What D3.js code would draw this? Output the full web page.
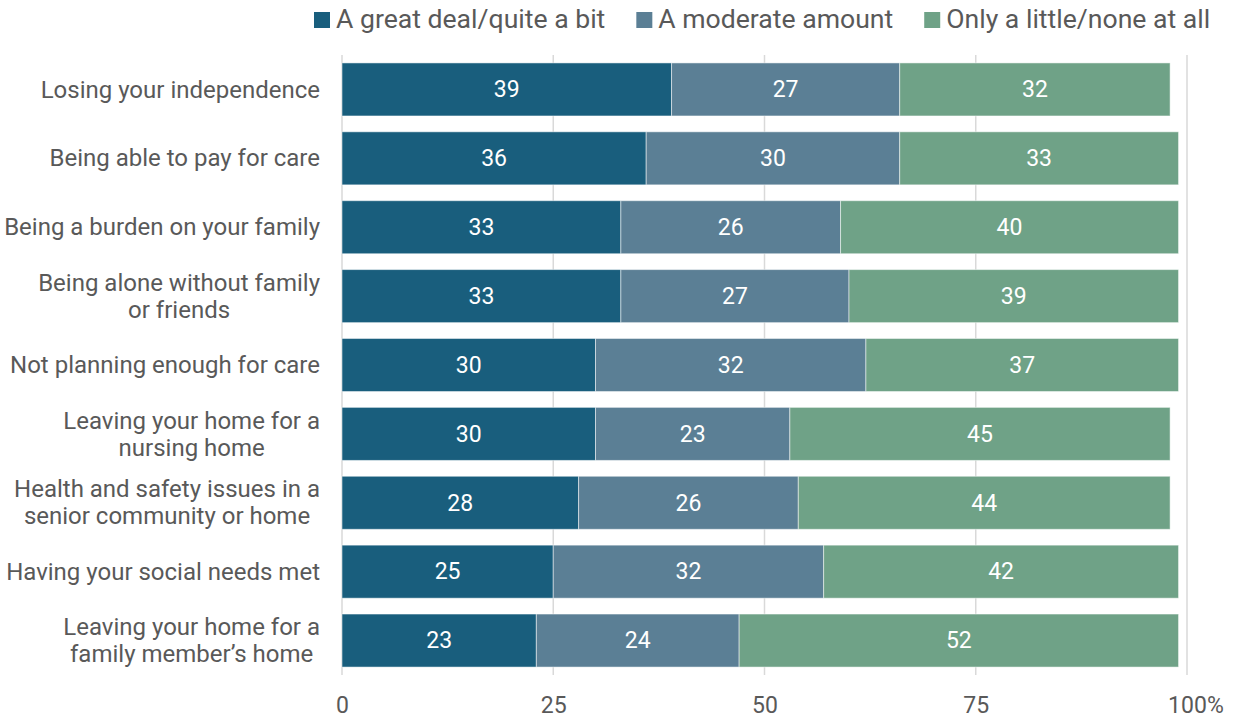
<!DOCTYPE html>
<html>
<head>
<meta charset="utf-8">
<script src="https://cdn.jsdelivr.net/npm/d3@7"></script>
<style>
  body { margin: 0; background: #fff; }
  svg { font-family: Roboto, "Noto Sans", sans-serif; }
</style>
</head>
<body>
<div id="chart"></div>
<script>
const categories = [
    ['Losing your independence'],
    ['Being able to pay for care'],
    ['Being a burden on your family'],
    ['Being alone without family', 'or friends'],
    ['Not planning enough for care'],
    ['Leaving your home for a', 'nursing home'],
    ['Health and safety issues in a', 'senior community or home'],
    ['Having your social needs met'],
    ['Leaving your home for a', 'family member\u2019s home']
]
const greatDeal = [39, 36, 33, 33, 30, 30, 28, 25, 23]
const moderate = [27, 30, 26, 27, 32, 23, 26, 32, 24]
const little = [32, 33, 40, 39, 37, 45, 44, 42, 52]
const seriesNames = ['A great deal/quite a bit', 'A moderate amount', 'Only a little/none at all']
const seriesColors = ['#195e7d', '#5b7f95', '#6fa287']
const tickValues = [0, 25, 50, 75, 100]

const w = 1237, h = 719
const margin = { top: 55, right: 50, bottom: 44, left: 342 }
const textColor = '#595959'

const svg = d3.select('#chart').append('svg').attr('width', w).attr('height', h)

const x = d3.scaleLinear().domain([0, 100]).range([margin.left, 1187])
const y = d3.scaleBand()
    .domain(d3.range(categories.length))
    .range([margin.top, h - margin.bottom])
    .paddingInner(0.23)
    .paddingOuter(0.115)

// gridlines
svg.append('g').selectAll('line')
    .data(tickValues).enter()
    .append('line')
    .attr('x1', d => x(d)).attr('x2', d => x(d))
    .attr('y1', margin.top).attr('y2', h - margin.bottom)
    .attr('stroke', '#d9d9d9').attr('stroke-width', 1.5)

// stacked bars
const rows = categories.map((c, i) => ({ i, vals: [greatDeal[i], moderate[i], little[i]] }))
const stack = d3.stack().keys([0, 1, 2]).value((d, k) => d.vals[k])
const layers = stack(rows)

layers.forEach((layer, k) => {
    const g = svg.append('g')
    g.selectAll('rect')
        .data(layer).enter()
        .append('rect')
        .attr('x', d => x(d[0]))
        .attr('y', d => y(d.data.i))
        .attr('width', d => x(d[1]) - x(d[0]))
        .attr('height', y.bandwidth())
        .attr('fill', seriesColors[k])
        .attr('stroke', 'rgba(255,255,255,0.5)')
        .attr('stroke-width', 1)
    g.selectAll('text')
        .data(layer).enter()
        .append('text')
        .attr('x', d => (x(d[0]) + x(d[1])) / 2)
        .attr('y', d => y(d.data.i) + y.bandwidth() / 2)
        .attr('text-anchor', 'middle')
        .attr('dy', '0.34em')
        .attr('fill', '#fff')
        .attr('font-size', '23px')
        .text(d => d[1] - d[0])
})

// category labels (multi-line labels are centred as a block, right edge at 320)
svg.append('g').selectAll('text')
    .data(categories).enter()
    .append('text')
    .attr('fill', textColor)
    .attr('font-size', '24px')
    .each(function (lines, i) {
        const cy = y(i) + y.bandwidth() / 2
        const lh = 27
        const t = d3.select(this)
        const spans = lines.map((ln, j) => t.append('tspan')
            .attr('y', cy + (j - (lines.length - 1) / 2) * lh)
            .attr('dy', '0.34em')
            .text(ln))
        if (lines.length === 1) {
            t.attr('text-anchor', 'end')
            spans[0].attr('x', 320)
        } else {
            const maxW = d3.max(spans, s => s.node().getComputedTextLength())
            t.attr('text-anchor', 'middle')
            spans.forEach(s => s.attr('x', 320 - maxW / 2))
        }
    })

// x axis labels
const axis = svg.append('g')
    .attr('transform', `translate(0,${h - margin.bottom})`)
    .call(d3.axisBottom(x).tickValues(tickValues).tickSize(0).tickPadding(22))
axis.select('.domain').remove()
axis.attr('font-size', 23).attr('font-family', 'Roboto, "Noto Sans", sans-serif')
axis.selectAll('text').attr('fill', textColor)
axis.selectAll('.tick').filter(d => d === 100).each(function () {
    const t = d3.select(this).select('text')
    t.text('')
    const num = t.append('tspan').text('100')
    t.append('tspan').text('%')
    const half = num.node().getComputedTextLength() / 2
    t.attr('text-anchor', 'start').attr('x', -half)
})

// Legend
const legend = svg.append('g').attr('transform', 'translate(314, 28)')
let lx = 0
seriesNames.forEach((name, k) => {
    const item = legend.append('g').attr('transform', `translate(${lx}, 0)`)
    item.append('rect').attr('x', 0).attr('y', -16).attr('width', 16).attr('height', 16)
        .attr('fill', seriesColors[k])
    const t = item.append('text').attr('x', 22).attr('y', 0)
        .attr('fill', textColor).attr('font-size', '26.6px')
        .text(name)
    lx += 22 + t.node().getComputedTextLength() + 31
})
</script>
</body>
</html>
